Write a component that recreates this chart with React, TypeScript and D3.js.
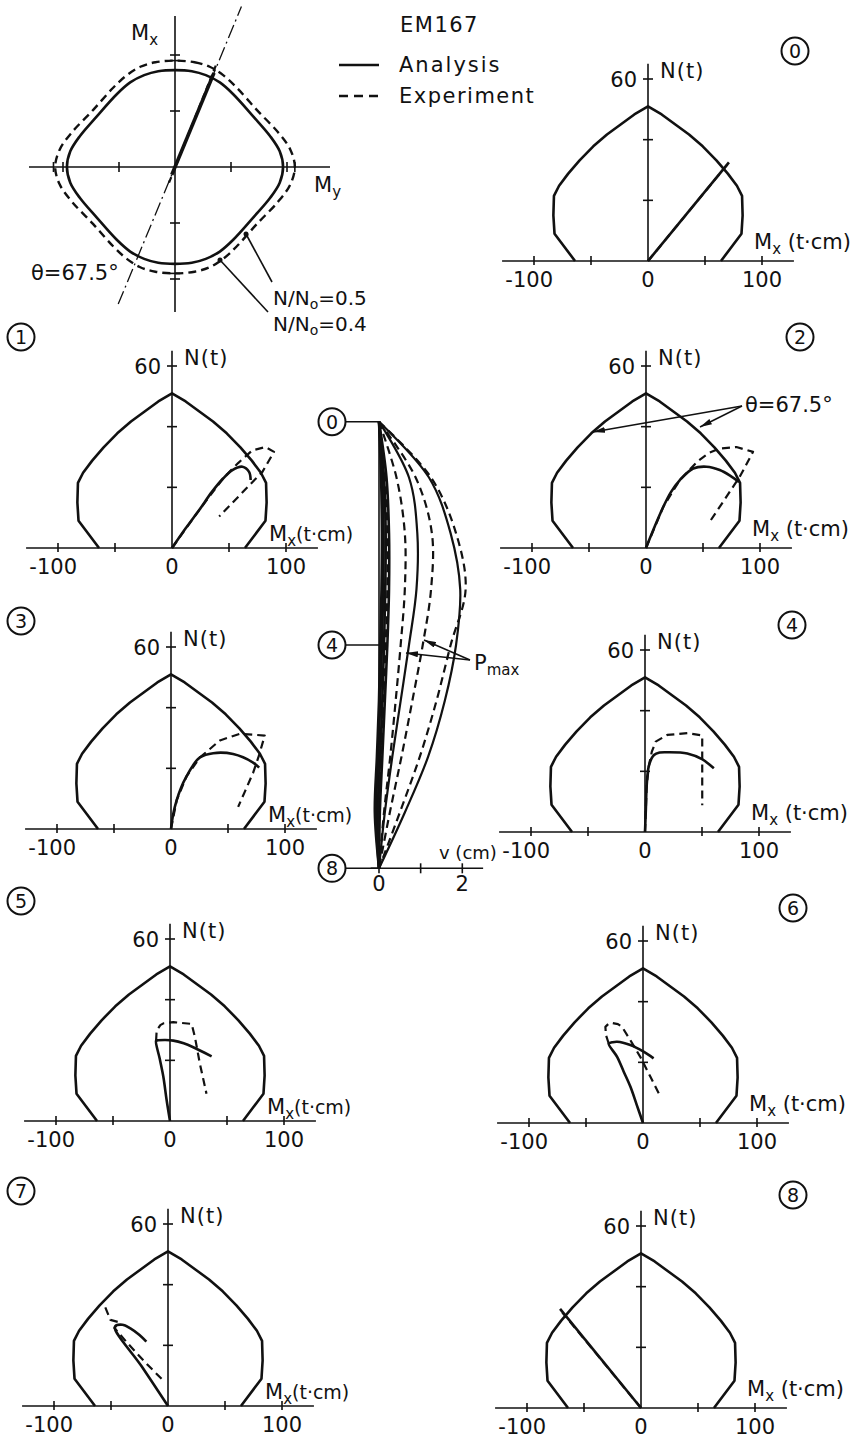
import React from 'react';
import * as d3 from 'd3';

type Pt = [number, number];

// N-Mx interaction curve (right half, Mx t·cm, N t) - mirrored for the left half
const boundaryRight: Pt[] = [
    [0, 51], [12, 48.3], [24, 45], [36, 41.7], [48, 37.8], [60, 33.2],
    [70, 28.8], [78, 24.8], [82.5, 21.5], [83, 15], [82, 9], [64, 0],
];

// load paths per panel (Mx, N)
const analysisPaths: Pt[][] = [
    [[0, 0], [71, 32.5]],
    [[0, 0], [12, 6.5], [24, 12.6], [35, 18.5], [45, 23], [53, 25.7], [61.8, 26.8], [67.6, 25.1], [69, 22.4]],
    [[0, 0], [7, 6.5], [15.2, 13.6], [22, 18.5], [29.7, 22.4], [41.4, 26.2], [53.1, 26.8], [64.7, 25.7], [74, 23.8], [81.6, 21.8]],
    [[0, 0], [2, 5], [5, 9.5], [9, 13.8], [13.7, 17.4], [19, 20.8], [25.4, 23.6], [37, 25], [54.5, 24.7], [72, 21.9], [77.3, 20.2]],
    [[0, 0], [0.8, 8], [1.5, 15.4], [3.5, 22], [7.9, 25.4], [13, 26.2], [19.6, 26.3], [37.1, 25.9], [50, 24], [60.4, 21]],
    [[0, 0], [-3, 7], [-5.8, 14.5], [-9, 20.5], [-12.2, 26.5], [-10.5, 26.6], [-4, 26.7], [2.9, 26.5], [12, 25.6], [20.4, 24.3], [36.5, 21.3]],
    [[0, 0], [-5.5, 6], [-11.1, 12], [-17, 17], [-22.7, 21.8], [-30.1, 26.2], [-27, 26.6], [-22.7, 26.8], [-11.1, 25.7], [0.5, 23.5], [9.3, 21.3]],
    [[0, 0], [-23, 13], [-46.6, 26.1], [-40, 26.8], [-33, 25.6], [-25, 23.4], [-19, 21.2]],
    [[0, 0], [-71, 32.7]],
];

const experimentPaths: Pt[][] = [
    [[0, 0], [70, 32]],
    [[0, 0], [24, 12.6], [45, 23], [58, 28], [70.5, 32.2], [82, 33.3], [89.5, 31.7], [79.3, 25.1], [41.4, 10.4]],
    [[0, 0], [15.2, 13.6], [29.7, 22.4], [45, 28.5], [55, 31.3], [64.7, 32.8], [79.3, 33.3], [93.9, 31.7], [88, 27.5], [82.2, 23.5], [69, 16], [56, 8.7]],
    [[0, 0], [5, 9.5], [13.7, 17.4], [25.4, 23.6], [42.9, 29.2], [60.4, 31.4], [82.2, 30.8], [77, 24], [72, 18.5], [65, 12.5], [58.9, 7.3]],
    [[0, 0], [1.5, 15.4], [3.5, 22], [6, 26.5], [9.4, 29.8], [19.6, 32], [37.1, 32.6], [50.2, 31.8], [50.2, 8.8]],
    [[-12.2, 26.5], [-11.7, 29.8], [-8.5, 31.6], [-5.8, 32.2], [2.9, 32.6], [19, 32], [21.9, 27.6], [26.2, 18.9], [32, 9]],
    [[-30.1, 26.2], [-32.5, 29], [-33, 31.7], [-30, 32.8], [-27.1, 33], [-22, 32.6], [-18.4, 31.7], [-11.1, 27.3], [-2.4, 21.8], [6.4, 15.3], [14.5, 9.3]],
    [[-55, 32.5], [-50.5, 28.4], [-43, 27.6], [-47, 25.7], [-35, 20.5], [-20, 14.4], [-5, 8.7]],
    [[0, 0], [-69, 31.5]],
];

const xTicks = [-100, -50, 50, 100];
const xTickLabels = [-100, 0, 100];
const nTicks = [20, 40, 60];

// Mx-My interaction (first quadrant, tick units), mirrored to all quadrants
const myMxSolidQ: Pt[] = [[0, 1.73], [0.3, 1.71], [0.55, 1.64], [0.8, 1.51], [1.04, 1.3], [1.4, 0.9], [1.7, 0.55], [1.87, 0.28], [1.93, 0]];
const myMxDashedQ: Pt[] = [[0, 1.9], [0.35, 1.87], [0.62, 1.79], [0.86, 1.64], [1.1, 1.42], [1.46, 1.02], [1.84, 0.62], [2.06, 0.31], [2.14, 0]];
const myTicks = [-2.17, -2, -1, 1, 2, 2.14];
const mxTicks = [-2, -1.9, -1, 1, 1.9, 2];
const thetaDeg = 67.5;

// deflection v (cm) at stations 0..8 (top to bottom)
const deflSolid: number[][] = [
    [0, 1.2, 1.72, 1.95, 1.85, 1.58, 1.18, 0.62, 0],
    [0, 0.72, 0.92, 0.9, 0.72, 0.52, 0.32, 0.14, 0],
    [0, 0.18, 0.24, 0.24, 0.2, 0.14, 0.08, 0.02, 0],
    [0, 0.12, 0.16, 0.15, 0.12, 0.08, 0.03, -0.03, 0],
    [0, 0.08, 0.11, 0.1, 0.07, 0.03, -0.02, -0.07, 0],
    [0, 0.05, 0.07, 0.06, 0.03, 0, -0.05, -0.1, 0],
];
const deflDashed: number[][] = [
    [0, 1.25, 1.85, 2.08, 1.72, 1.38, 0.98, 0.5, 0],
    [0, 0.88, 1.27, 1.25, 1.05, 0.8, 0.54, 0.26, 0],
    [0, 0.42, 0.62, 0.62, 0.52, 0.4, 0.27, 0.12, 0],
    [0, 0.15, 0.2, 0.2, 0.16, 0.1, 0.05, -0.02, 0],
];
const stationMarks = [0, 4, 8];
const vTicks = [0, 1, 2];
const vTickLabels = [0, 2];

// panel layout (origin of N-Mx axes, number badge position)
const panelLayout = [
    { id: 0, ox: 648, oy: 261, bx: 795, by: 51, left: false },
    { id: 1, ox: 172, oy: 548, bx: 21, by: 337, left: true },
    { id: 2, ox: 646, oy: 548, bx: 800, by: 337, left: false },
    { id: 3, ox: 171, oy: 829, bx: 21, by: 621, left: true },
    { id: 4, ox: 645, oy: 832, bx: 792, by: 625, left: false },
    { id: 5, ox: 170, oy: 1121, bx: 21, by: 901, left: true },
    { id: 6, ox: 643, oy: 1123, bx: 793, by: 908, left: false },
    { id: 7, ox: 168, oy: 1406, bx: 21, by: 1191, left: true },
    { id: 8, ox: 641, oy: 1408, bx: 793, by: 1195, left: false },
];

const FONT = 'DejaVu Sans, sans-serif';
const INK = '#111';
const DASH = '8,5';

const Badge: React.FC<{ x: number; y: number; n: number }> = ({ x, y, n }) => (
    <g>
        <circle cx={x} cy={y} r={13.5} fill="white" stroke={INK} strokeWidth={2} />
        <text x={x} y={y + 7} textAnchor="middle" fontSize={19} fontFamily={FONT} fill={INK}>{n}</text>
    </g>
);

const Panel: React.FC<{ cfg: typeof panelLayout[number] }> = ({ cfg }) => {
    const { id, ox, oy, left } = cfg;
    const x = d3.scaleLinear().domain([-100, 100]).range([ox - 114, ox + 114]);
    const y = d3.scaleLinear().domain([0, 60]).range([oy, oy - 182]);
    const line = d3.line<Pt>().x(d => x(d[0])).y(d => y(d[1]));
    const smooth = d3.line<Pt>().x(d => x(d[0])).y(d => y(d[1])).curve(d3.curveCatmullRom.alpha(0.5));
    const full: Pt[] = [
        ...boundaryRight.slice().reverse().map(([m, n]) => [-m, n] as Pt),
        ...boundaryRight.slice(1),
    ];
    const ana = analysisPaths[id];
    const exp = experimentPaths[id];
    return (
        <g>
            <line x1={x(-128)} x2={x(128)} y1={y(0)} y2={y(0)} stroke={INK} strokeWidth={1.6} />
            <line x1={x(0)} x2={x(0)} y1={y(0)} y2={y(65)} stroke={INK} strokeWidth={1.6} />
            {xTicks.map(t => (
                <line key={t} x1={x(t)} x2={x(t)} y1={y(0) - 5} y2={y(0) + 4} stroke={INK} strokeWidth={1.6} />
            ))}
            {nTicks.map(t => (
                <line key={t} x1={x(0) - 5} x2={x(0) + 5} y1={y(t)} y2={y(t)} stroke={INK} strokeWidth={1.6} />
            ))}
            <path d={line(full) || ''} fill="none" stroke={INK} strokeWidth={2.6} strokeLinejoin="round" />
            <path d={(ana.length > 2 ? smooth(ana) : line(ana)) || ''} fill="none" stroke={INK} strokeWidth={2.6} strokeLinejoin="round" />
            <path d={line(exp) || ''} fill="none" stroke={INK} strokeWidth={2.2} strokeDasharray={DASH} strokeLinejoin="round" />
            {xTickLabels.map(t => (
                t < 0 ? (
                    <text key={t} x={x(t) + 19} y={y(0) + 26} textAnchor="end" fontSize={21} fontFamily={FONT} fill={INK}>{String(t)}</text>
                ) : (
                    <text key={t} x={x(t)} y={y(0) + 26} textAnchor="middle" fontSize={21} fontFamily={FONT} fill={INK}>{t}</text>
                )
            ))}
            <text x={x(0) - 11} y={y(60) + 8} textAnchor="end" fontSize={21} fontFamily={FONT} fill={INK}>60</text>
            <text x={x(0) + 12} y={y(60) - 1} fontSize={21} fontFamily={FONT} fill={INK} letterSpacing={1}>N(t)</text>
            {left ? (
                <text x={x(0) + 97} y={y(0) - 7} fontSize={21} fontFamily={FONT} fill={INK}>
                    M<tspan dy={5} fontSize={15}>x</tspan><tspan dy={-5} fontSize={19}>(t·cm)</tspan>
                </text>
            ) : (
                <text x={x(0) + 106} y={y(0) - 12} fontSize={21} fontFamily={FONT} fill={INK}>
                    M<tspan dy={5} fontSize={15}>x</tspan><tspan dy={-5}> (t·cm)</tspan>
                </text>
            )}
            <Badge x={cfg.bx} y={cfg.by} n={id} />
        </g>
    );
};

// closed loop: quadrant I (top->right), IV (right->bottom), III (bottom->left), II (left->top)
const mirrorLoop = (q: Pt[]): Pt[] => {
    const q1 = q;
    const q4 = q.slice().reverse().map(([a, b]) => [a, -b] as Pt).slice(1);
    const q3 = q.map(([a, b]) => [-a, -b] as Pt).slice(1);
    const q2 = q.slice().reverse().map(([a, b]) => [-a, b] as Pt).slice(1, -1);
    return [...q1, ...q4, ...q3, ...q2];
};

const MxMyDiagram: React.FC = () => {
    const cx = 175, cy = 167, u = 56;
    const x = d3.scaleLinear().domain([-1, 1]).range([cx - u, cx + u]);
    const y = d3.scaleLinear().domain([-1, 1]).range([cy + u, cy - u]);
    const loop = d3.line<Pt>().x(d => x(d[0])).y(d => y(d[1])).curve(d3.curveCatmullRomClosed.alpha(0.5));
    const th = (thetaDeg * Math.PI) / 180;
    const along = (r: number, dth = 0): Pt => [r * Math.cos(th + dth), r * Math.sin(th + dth)];
    const seg = d3.line<Pt>().x(d => x(d[0])).y(d => y(d[1]));
    return (
        <g>
            <line x1={29} x2={330} y1={y(0)} y2={y(0)} stroke={INK} strokeWidth={1.6} />
            <line x1={x(0)} x2={x(0)} y1={16} y2={312} stroke={INK} strokeWidth={1.6} />
            {myTicks.map(t => (
                <line key={t} x1={x(t)} x2={x(t)} y1={y(0) - 5} y2={y(0) + 5} stroke={INK} strokeWidth={1.6} />
            ))}
            {mxTicks.map(t => (
                <line key={t} x1={x(0) - 5} x2={x(0) + 5} y1={y(t)} y2={y(t)} stroke={INK} strokeWidth={1.6} />
            ))}
            <path d={loop(mirrorLoop(myMxSolidQ)) || ''} fill="none" stroke={INK} strokeWidth={2.6} />
            <path d={loop(mirrorLoop(myMxDashedQ)) || ''} fill="none" stroke={INK} strokeWidth={2.4} strokeDasharray={DASH} />
            <path d={seg([along(-2.65), along(3.1)]) || ''} fill="none" stroke={INK} strokeWidth={1.3} strokeDasharray="14,4,2,4" />
            <path d={seg([along(-0.15), along(1.82)]) || ''} fill="none" stroke={INK} strokeWidth={3.6} />
            <path d={seg([along(-0.3, 0.03), along(1.95, 0.01)]) || ''} fill="none" stroke={INK} strokeWidth={2.2} strokeDasharray="6,4" />
            <text x={131} y={40} fontSize={21} fontFamily={FONT} fill={INK}>
                M<tspan dy={5} fontSize={15}>x</tspan>
            </text>
            <text x={314} y={192} fontSize={21} fontFamily={FONT} fill={INK}>
                M<tspan dy={5} fontSize={15}>y</tspan>
            </text>
            <text x={31} y={280} fontSize={21} fontFamily={FONT} fill={INK}>θ=67.5°</text>
            <line x1={246} y1={234} x2={272} y2={282} stroke={INK} strokeWidth={1.6} />
            <circle cx={246} cy={234} r={2.5} fill={INK} />
            <line x1={220} y1={260} x2={268} y2={312} stroke={INK} strokeWidth={1.6} />
            <circle cx={220} cy={260} r={2.5} fill={INK} />
            <text x={273} y={305} fontSize={20} fontFamily={FONT} fill={INK}>
                N/N<tspan dy={4} fontSize={14}>o</tspan><tspan dy={-4}>=0.5</tspan>
            </text>
            <text x={273} y={331} fontSize={20} fontFamily={FONT} fill={INK}>
                N/N<tspan dy={4} fontSize={14}>o</tspan><tspan dy={-4}>=0.4</tspan>
            </text>
        </g>
    );
};

const Legend: React.FC = () => (
    <g fontFamily={FONT} fill={INK} fontSize={21}>
        <text x={400} y={32} letterSpacing={1.5}>EM167</text>
        <line x1={339} x2={379} y1={65} y2={65} stroke={INK} strokeWidth={2.6} />
        <text x={399} y={72} letterSpacing={2}>Analysis</text>
        <line x1={339} x2={379} y1={96} y2={96} stroke={INK} strokeWidth={2.6} strokeDasharray="9,6" />
        <text x={399} y={103} letterSpacing={1.5}>Experiment</text>
    </g>
);

const Deflection: React.FC = () => {
    const x = d3.scaleLinear().domain([0, 2]).range([379, 462.3]);
    const y = d3.scaleLinear().domain([0, 8]).range([421.7, 868.3]);
    const line = d3.line<number>().x(v => x(v)).y((_, i) => y(i)).curve(d3.curveCatmullRom.alpha(0.5));
    return (
        <g>
            <line x1={x(0)} x2={x(0)} y1={y(0)} y2={y(8)} stroke={INK} strokeWidth={1.6} />
            <line x1={x(-0.2)} x2={x(2.5)} y1={y(8)} y2={y(8)} stroke={INK} strokeWidth={1.6} />
            {vTicks.map(t => (
                <line key={t} x1={x(t)} x2={x(t)} y1={y(8) - 5} y2={y(8) + 5} stroke={INK} strokeWidth={1.6} />
            ))}
            {deflSolid.map((d, i) => (
                <path key={'s' + i} d={line(d) || ''} fill="none" stroke={INK} strokeWidth={i < 2 ? 2.2 : 2.6} />
            ))}
            {deflDashed.map((d, i) => (
                <path key={'d' + i} d={line(d) || ''} fill="none" stroke={INK} strokeWidth={2.2} strokeDasharray={DASH} />
            ))}
            {stationMarks.map(s => (
                <g key={s}>
                    <line x1={x(0) - 35} x2={x(0)} y1={y(s)} y2={y(s)} stroke={INK} strokeWidth={1.6} />
                    <Badge x={x(0) - 47} y={y(s)} n={s} />
                </g>
            ))}
            {vTickLabels.map(t => (
                <text key={t} x={x(t)} y={y(8) + 23} textAnchor="middle" fontSize={21} fontFamily={FONT} fill={INK}>{t}</text>
            ))}
            <text x={439} y={y(8) - 9} fontSize={18} fontFamily={FONT} fill={INK}>v (cm)</text>
            <line x1={470} y1={660} x2={406} y2={653} stroke={INK} strokeWidth={1.5} markerEnd="url(#arr)" />
            <line x1={470} y1={660} x2={424} y2={640} stroke={INK} strokeWidth={1.5} markerEnd="url(#arr)" />
            <text x={474} y={670} fontSize={21} fontFamily={FONT} fill={INK}>
                P<tspan dy={5} fontSize={15}>max</tspan>
            </text>
        </g>
    );
};

const App: React.FC = () => (
    <svg width={868} height={1441} viewBox="0 0 868 1441"
        style={{ position: 'absolute', left: 0, top: 0, background: 'white' }}>
        <defs>
            <marker id="arr" viewBox="0 0 12 6" refX={12} refY={3} markerWidth={12} markerHeight={6}
                markerUnits="userSpaceOnUse" orient="auto">
                <path d="M0,0 L12,3 L0,6 z" fill={INK} />
            </marker>
        </defs>
        <rect width={868} height={1441} fill="white" />
        <MxMyDiagram />
        <Legend />
        {panelLayout.map(p => <Panel key={p.id} cfg={p} />)}
        <Deflection />
        <g>
            <text x={745} y={412} fontSize={21} fontFamily={FONT} fill={INK}>θ=67.5°</text>
            <line x1={742} y1={406} x2={593} y2={432} stroke={INK} strokeWidth={1.5} markerEnd="url(#arr)" />
            <line x1={742} y1={406} x2={700} y2={427} stroke={INK} strokeWidth={1.5} markerEnd="url(#arr)" />
        </g>
    </svg>
);

export default App;
